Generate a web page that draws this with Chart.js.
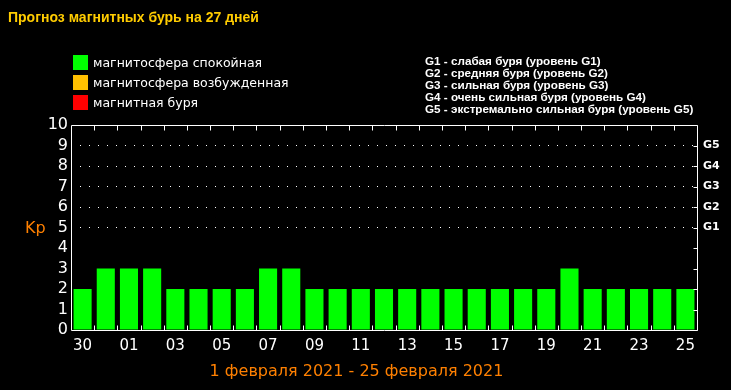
<!DOCTYPE html>
<html>
<head>
<meta charset="utf-8">
<script src="https://cdn.jsdelivr.net/npm/chart.js@4/dist/chart.umd.min.js"></script>
<style>
  html, body { margin: 0; padding: 0; background: #000; }
  #wrap { position: relative; width: 731px; height: 390px; overflow: hidden; background: #000; }
  canvas { position: absolute; left: 0; top: 0; }
  .t { position: absolute; white-space: nowrap; line-height: 1; }
  #title { left: 8px; top: 9px; font: bold 14px "Liberation Sans", Arial, sans-serif; color: #FFCC00; }
  .leg { left: 73px; font: 12.5px "DejaVu Sans", sans-serif; color: #fff; }
  .leg span.sw { display: inline-block; width: 15px; height: 15px; vertical-align: top; margin-right: 5px; }
  .leg span.tx { display: inline-block; height: 15px; line-height: 15px; vertical-align: top; }
  #glist { left: 425px; top: 55px; font: bold 11.7px "Liberation Sans", Arial, sans-serif; color: #fff; line-height: 12px; }
  #kp { left: 25px; top: 218px; font: 16px "DejaVu Sans", sans-serif; color: #FF8000; }
  #caption { left: 0; width: 713px; text-align: center; top: 361px; font: 16px "DejaVu Sans", sans-serif; color: #FF8000; }
</style>
</head>
<body>
<div id="wrap">
  <canvas id="c" width="731" height="390"></canvas>
  <div class="t" id="title">Прогноз магнитных бурь на 27 дней</div>
  <div class="t leg" style="top:55px"><span class="sw" style="background:#00FF00"></span><span class="tx">магнитосфера спокойная</span></div>
  <div class="t leg" style="top:75px"><span class="sw" style="background:#FFC000"></span><span class="tx">магнитосфера возбужденная</span></div>
  <div class="t leg" style="top:95px"><span class="sw" style="background:#FF0000"></span><span class="tx">магнитная буря</span></div>
  <div class="t" id="glist">G1 - слабая буря (уровень G1)<br>G2 - средняя буря (уровень G2)<br>G3 - сильная буря (уровень G3)<br>G4 - очень сильная буря (уровень G4)<br>G5 - экстремально сильная буря (уровень G5)</div>
  <div class="t" id="kp">Kp</div>
  <div class="t" id="caption">1 февраля 2021 - 25 февраля 2021</div>
</div>
<script>
// ---- data ----
const categories = ['30','31','01','02','03','04','05','06','07','08','09','10','11','12','13','14','15','16','17','18','19','20','21','22','23','24','25'];
const kpValues = [2,3,3,3,2,2,2,2,3,3,2,2,2,2,2,2,2,2,2,2,2,3,2,2,2,2,2];
const kpTicks = [0,1,2,3,4,5,6,7,8,9,10];
const gLevels = {5:'G1', 6:'G2', 7:'G3', 8:'G4', 9:'G5'};

function barColor(v) {
  if (v >= 5) return '#FF0000';
  if (v >= 4) return '#FFC000';
  return '#00FF00';
}

const frameTicks = {
  id: 'frameTicks',
  afterDatasetsDraw(chart) {
    const ctx = chart.ctx;
    const a = chart.chartArea;
    const x = chart.scales.x, y2 = chart.scales.y2;
    ctx.save();
    ctx.strokeStyle = '#fff';
    ctx.lineWidth = 1;
    ctx.beginPath();
    const L = Math.round(a.left) + 0.5, R = Math.round(a.right) + 0.5;
    const T = Math.round(a.top) + 0.5, B = Math.round(a.bottom) + 0.5;
    ctx.rect(L, T, R - L, B - T);
    // category boundary ticks top & bottom
    for (let i = 1; i < categories.length; i++) {
      const px = Math.round((x.getPixelForValue(i - 1) + x.getPixelForValue(i)) / 2) + 0.5;
      ctx.moveTo(px, B); ctx.lineTo(px, B - 5);
      ctx.moveTo(px, T); ctx.lineTo(px, T + 5);
    }
    // right axis inward ticks
    kpTicks.forEach(v => {
      const py = Math.round(y2.getPixelForValue(v)) + 0.5;
      ctx.moveTo(R, py); ctx.lineTo(R - 4, py);
    });
    ctx.stroke();
    ctx.restore();
  }
};

new Chart(document.getElementById('c'), {
  type: 'bar',
  data: {
    labels: categories,
    datasets: [{
      data: kpValues,
      backgroundColor: kpValues.map(barColor),
      borderWidth: 0,
      barPercentage: 0.78,
      categoryPercentage: 1.0
    }]
  },
  options: {
    responsive: false,
    animation: false,
    events: [],
    layout: { padding: { top: 125, left: 0, right: 0, bottom: 30 } },
    plugins: { legend: { display: false }, tooltip: { enabled: false }, title: { display: false } },
    scales: {
      x: {
        offset: true,
        grid: { display: false, drawTicks: false },
        border: { display: false },
        ticks: {
          autoSkip: false, maxRotation: 0, minRotation: 0,
          color: '#fff', padding: 7,
          font: { family: 'DejaVu Sans', size: 15 },
          callback: function(val, idx) { return idx % 2 === 0 ? categories[idx] : ''; }
        },
        afterFit(scale) { scale.height = 30; }
      },
      y: {
        min: 0, max: 10,
        afterBuildTicks(scale) { scale.ticks = kpTicks.map(v => ({ value: v })); },
        grid: {
          drawTicks: false,
          color: (c) => (c.tick && c.tick.value >= 5 && c.tick.value <= 9) ? '#ffffff' : 'rgba(0,0,0,0)',
          lineWidth: 1
        },
        border: { display: false, dash: [1, 8] },
        ticks: {
          autoSkip: false,
          color: '#fff', padding: 3,
          font: { family: 'DejaVu Sans', size: 16 }
        },
        afterFit(scale) { scale.width = 71; }
      },
      y2: {
        position: 'right',
        min: 0, max: 10,
        afterBuildTicks(scale) { scale.ticks = kpTicks.map(v => ({ value: v })); },
        grid: { drawOnChartArea: false, drawTicks: false },
        border: { display: false },
        ticks: {
          autoSkip: false,
          color: '#fff', padding: 6,
          font: { family: 'DejaVu Sans', size: 11, weight: 'bold' },
          callback: (v) => gLevels[v] || ''
        },
        afterFit(scale) { scale.width = 34; }
      }
    }
  },
  plugins: [frameTicks]
});
</script>
</body>
</html>
